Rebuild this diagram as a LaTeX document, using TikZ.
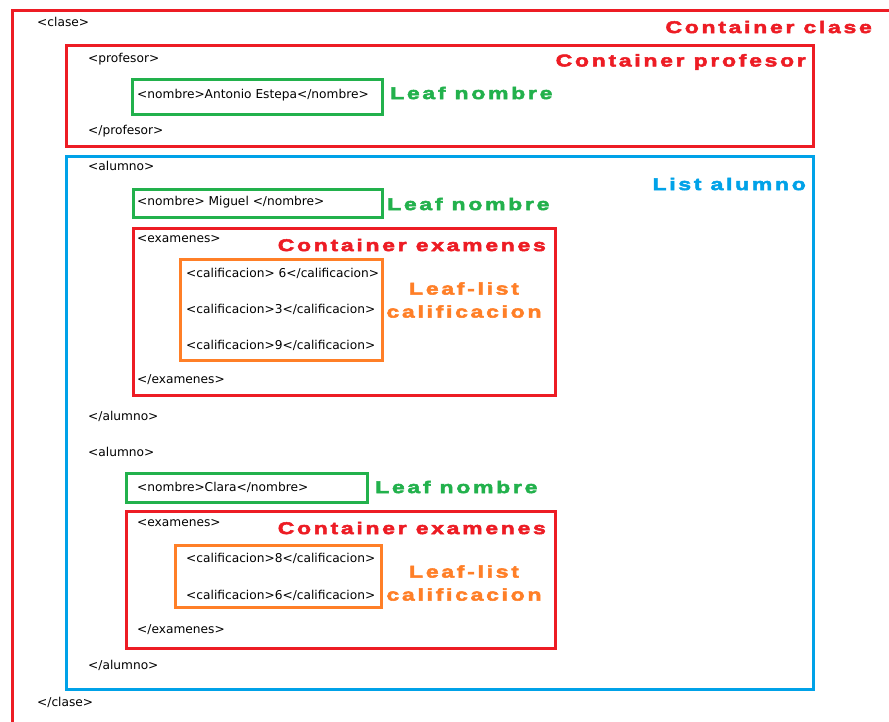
\documentclass[tikz,border=0pt]{standalone}
\usepackage{fontspec}
\setmainfont{Liberation Sans}
\newfontfamily\tagfont{DejaVu Sans}
\newfontfamily\kindfont[LetterSpace=16,FakeStretch=1.35,FakeBold=3]{Liberation Sans Bold}
\definecolor{boxred}{HTML}{ED1C24}
\definecolor{boxgreen}{HTML}{22B14C}
\definecolor{boxblue}{HTML}{00A2E8}
\definecolor{boxorange}{HTML}{FF7F27}
\tikzset{
  frame/.style={draw=#1, line width=3pt, anchor=north west, inner sep=0pt},
  tag/.style={anchor=west, inner sep=0pt, text=black, font=\tagfont\fontsize{12.2}{12.2}\selectfont},
  kind/.style={inner sep=0pt, text=#1, font=\kindfont\fontsize{17}{23}\selectfont, align=center},
}
\begin{document}
\begin{tikzpicture}[x=1pt,y=-1pt]
\useasboundingbox (0,0) rectangle (889,722);
\clip (0,0) rectangle (889,722);
\fill[white] (0,0) rectangle (889,722);

% clase
\node[frame=boxred, minimum width=900, minimum height=730] (clase) at (11,9) {};
\node[tag] (claseopen) at (37,22) {<clase>};
\node[kind=boxred, anchor=east] (claselbl) at (872,27) {Container clase};

% profesor
\node[frame=boxred, minimum width=747, minimum height=101] (profesor) at (65,44) {};
\node[tag] (profopen) at (88,59) {<profesor>};
\node[kind=boxred, anchor=east] (proflbl) at (806,62) {Container profesor};
\node[frame=boxgreen, minimum width=250, minimum height=35] (nomprof) at (131,78) {};
\node[tag] (nomproftxt) at (137,95) {<nombre>Antonio Estepa</nombre>};
\node[kind=boxgreen, anchor=west] (nomproflbl) at (390,93) {Leaf nombre};
\node[tag] (profclose) at (88,131) {</profesor>};

% alumnos
\node[frame=boxblue, minimum width=747, minimum height=533] (alumnos) at (65,155) {};
\node[kind=boxblue, anchor=east] (alumnolbl) at (806,184) {List alumno};

% alumno 1
\node[tag] (al1open) at (88,166) {<alumno>};
\node[frame=boxgreen, minimum width=249, minimum height=28] (nom1) at (132,188) {};
\node[tag] (nom1txt) at (137,202) {<nombre> Miguel </nombre>};
\node[kind=boxgreen, anchor=west] (nom1lbl) at (387,204) {Leaf nombre};
\node[frame=boxred, minimum width=422, minimum height=167] (exa1) at (132,227) {};
\node[tag] (exa1open) at (137,239) {<examenes>};
\node[kind=boxred, anchor=east] (exa1lbl) at (546,245) {Container examenes};
\node[frame=boxorange, minimum width=202, minimum height=101] (cal1) at (179,258) {};
\node[tag] (cal1a) at (186,273) {<calificacion> 6</calificacion>};
\node[tag] (cal1b) at (186,309) {<calificacion>3</calificacion>};
\node[tag] (cal1c) at (186,345) {<calificacion>9</calificacion>};
\node[kind=boxorange] (cal1lbl) at (464,300) {Leaf-list\\calificacion};
\node[tag] (exa1close) at (137,380) {</examenes>};
\node[tag] (al1close) at (88,416) {</alumno>};

% alumno 2
\node[tag] (al2open) at (88,452) {<alumno>};
\node[frame=boxgreen, minimum width=241, minimum height=29] (nom2) at (125,472) {};
\node[tag] (nom2txt) at (137,487) {<nombre>Clara</nombre>};
\node[kind=boxgreen, anchor=west] (nom2lbl) at (375,487) {Leaf nombre};
\node[frame=boxred, minimum width=429, minimum height=137] (exa2) at (125,510) {};
\node[tag] (exa2open) at (137,523) {<examenes>};
\node[kind=boxred, anchor=east] (exa2lbl) at (546,528) {Container examenes};
\node[frame=boxorange, minimum width=206, minimum height=62] (cal2) at (174,544) {};
\node[tag] (cal2a) at (186,558) {<calificacion>8</calificacion>};
\node[tag] (cal2b) at (186,595) {<calificacion>6</calificacion>};
\node[kind=boxorange] (cal2lbl) at (464,583) {Leaf-list\\calificacion};
\node[tag] (exa2close) at (137,630) {</examenes>};
\node[tag] (al2close) at (88,665) {</alumno>};

\node[tag] (claseclose) at (37,702) {</clase>};
\end{tikzpicture}
\end{document}
